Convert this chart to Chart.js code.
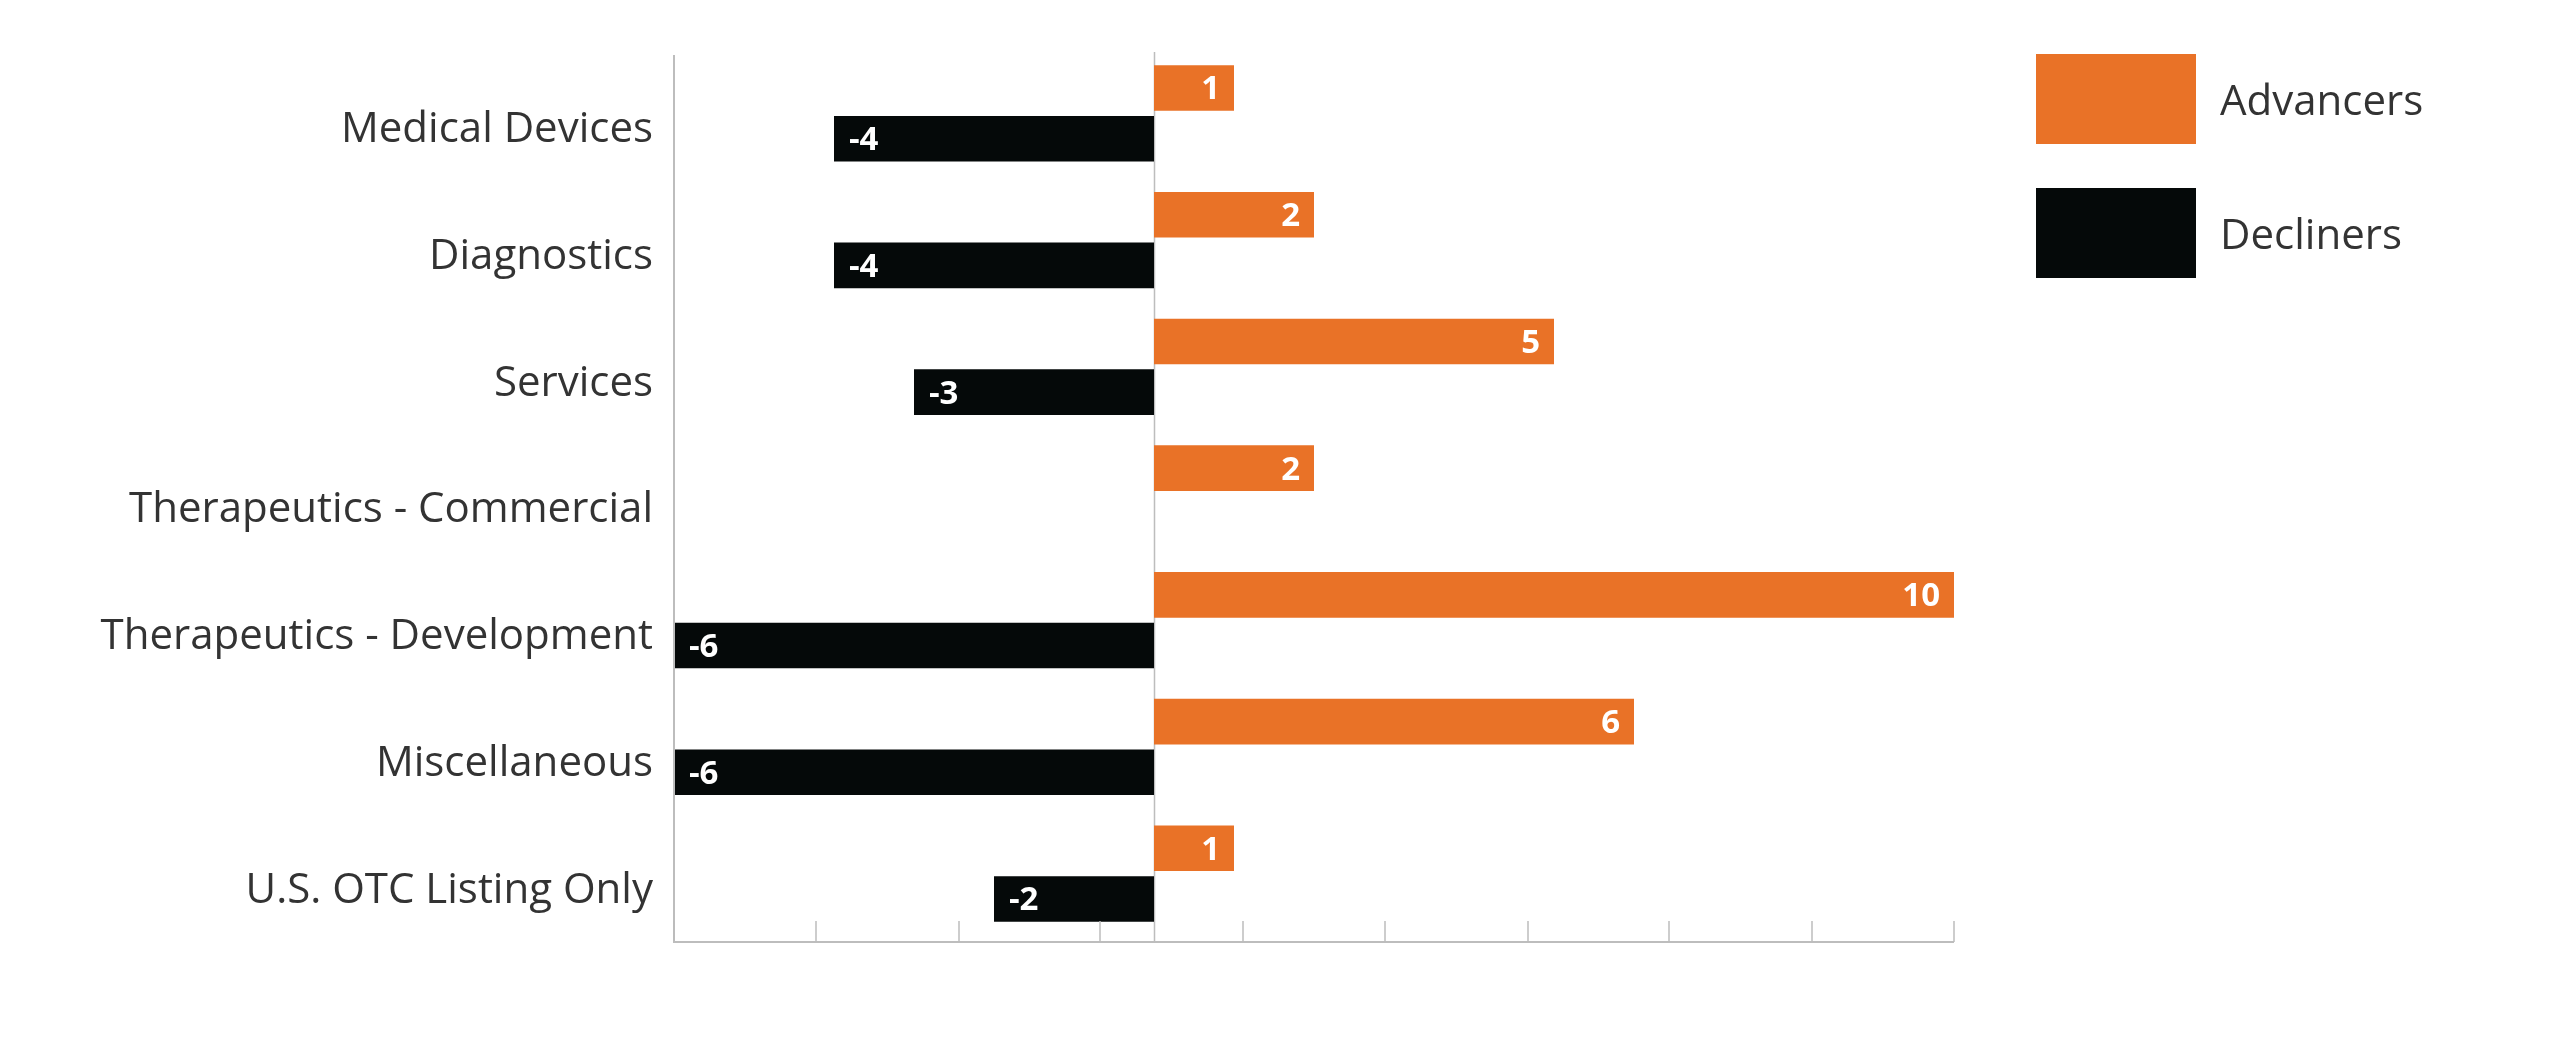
<!DOCTYPE html>
<html>
<head>
<meta charset="utf-8">
<title>Advancers and Decliners by Sector</title>
<script src="https://cdn.jsdelivr.net/npm/chart.js@4.4.1/dist/chart.umd.min.js"></script>
<style>
  html, body { margin: 0; padding: 0; background: #fff; }
  #chart { display: block; }
</style>
</head>
<body>
<canvas id="chart" width="2560" height="1057"></canvas>
<script>
// Sectors, top to bottom
const categories = [
    'Medical Devices',
    'Diagnostics',
    'Services',
    'Therapeutics - Commercial',
    'Therapeutics - Development',
    'Miscellaneous',
    'U.S. OTC Listing Only'
];
const advancers = [1, 2, 5, 2, 10, 6, 1];
const decliners = [-4, -4, -3, 0, -6, -6, -2];

// Tick marks along the bottom axis (no labels shown)
const xTicks = [-6, -4.22, -2.44, -0.67, 1.11, 2.89, 4.67, 6.44, 8.22, 10];

const ORANGE = '#e97227';
const BLACK = '#050909';
const AXIS_GREY = '#bdbdbd';
const TEXT = '#333333';
const FONT = '"Open Sans", "Liberation Sans", sans-serif';

// the drawn axis frame sits a few px below the bar band in the original
const FRAME_SHIFT = 5;

// Axis frame, zero line behind the bars, short tick marks pointing up
const axisMarks = {
    id: 'axisMarks',
    beforeDatasetsDraw(chart) {
        const { ctx, chartArea, scales: { x } } = chart;
        const top = chartArea.top + FRAME_SHIFT;
        const bottom = chartArea.bottom + FRAME_SHIFT;
        const x0 = Math.round(x.getPixelForValue(0)) + 0.5;
        ctx.save();
        ctx.strokeStyle = AXIS_GREY;
        ctx.lineWidth = 1.5;
        ctx.beginPath();
        ctx.moveTo(x0, top - 3);
        ctx.lineTo(x0, bottom);
        ctx.stroke();
        ctx.restore();
    },
    afterDraw(chart) {
        const { ctx, chartArea, scales: { x } } = chart;
        const top = chartArea.top + FRAME_SHIFT;
        const bottom = chartArea.bottom + FRAME_SHIFT;
        ctx.save();
        ctx.strokeStyle = AXIS_GREY;
        ctx.lineWidth = 2;
        ctx.beginPath();
        ctx.moveTo(chartArea.left, top);
        ctx.lineTo(chartArea.left, bottom);
        ctx.lineTo(chartArea.right, bottom);
        ctx.stroke();
        ctx.lineWidth = 1.5;
        x.ticks.forEach(t => {
            const px = Math.round(x.getPixelForValue(t.value));
            ctx.beginPath();
            ctx.moveTo(px, bottom - 21);
            ctx.lineTo(px, bottom);
            ctx.stroke();
        });
        ctx.restore();
    }
};

// White value labels inside the bar ends
const barLabels = {
    id: 'barLabels',
    afterDatasetsDraw(chart) {
        const ctx = chart.ctx;
        ctx.save();
        ctx.font = '700 33px ' + FONT;
        ctx.fillStyle = '#ffffff';
        ctx.textBaseline = 'middle';
        chart.data.datasets.forEach((ds, i) => {
            chart.getDatasetMeta(i).data.forEach((bar, j) => {
                const v = ds.data[j];
                if (!v) return;
                if (v > 0) {
                    ctx.textAlign = 'right';
                    ctx.fillText(String(v), bar.x - 14, bar.y + 2);
                } else {
                    ctx.textAlign = 'left';
                    ctx.fillText(String(v), bar.x + 15, bar.y + 2);
                }
            });
        });
        ctx.restore();
    }
};

// Legend on the right with big colour blocks
const sideLegend = {
    id: 'sideLegend',
    afterDraw(chart) {
        const { ctx, chartArea } = chart;
        const left = chartArea.right + 82;
        ctx.save();
        ctx.font = '500 42px ' + FONT;
        ctx.textBaseline = 'middle';
        ctx.textAlign = 'left';
        chart.data.datasets.forEach((ds, i) => {
            const top = chartArea.top + 4 + i * 134;
            ctx.fillStyle = ds.backgroundColor;
            ctx.fillRect(left, top, 160, 90);
            ctx.fillStyle = TEXT;
            ctx.fillText(ds.label, left + 184, top + 49);
        });
        ctx.restore();
    }
};

new Chart(document.getElementById('chart'), {
    type: 'bar',
    data: {
        labels: categories,
        datasets: [
            {
                label: 'Advancers',
                data: advancers,
                backgroundColor: ORANGE,
                categoryPercentage: 0.8,
                barPercentage: 0.9
            },
            {
                label: 'Decliners',
                data: decliners,
                backgroundColor: BLACK,
                categoryPercentage: 0.8,
                barPercentage: 0.9
            }
        ]
    },
    options: {
        indexAxis: 'y',
        responsive: false,
        animation: false,
        layout: { padding: { top: 50, right: 606, bottom: 0, left: 0 } },
        plugins: {
            legend: { display: false },
            tooltip: { enabled: false }
        },
        scales: {
            x: {
                min: -6,
                max: 10,
                afterBuildTicks: scale => { scale.ticks = xTicks.map(v => ({ value: v })); },
                afterFit: scale => { scale.height = 120; },
                grid: { display: false, drawTicks: false },
                border: { display: false },
                ticks: { display: false }
            },
            y: {
                afterFit: scale => { scale.width = 674; },
                grid: { display: false, drawTicks: false },
                border: { display: false },
                ticks: {
                    color: TEXT,
                    font: { family: FONT, size: 42, weight: 500 },
                    padding: 21,
                    labelOffset: 17
                }
            }
        }
    },
    plugins: [axisMarks, barLabels, sideLegend]
});
</script>
</body>
</html>
